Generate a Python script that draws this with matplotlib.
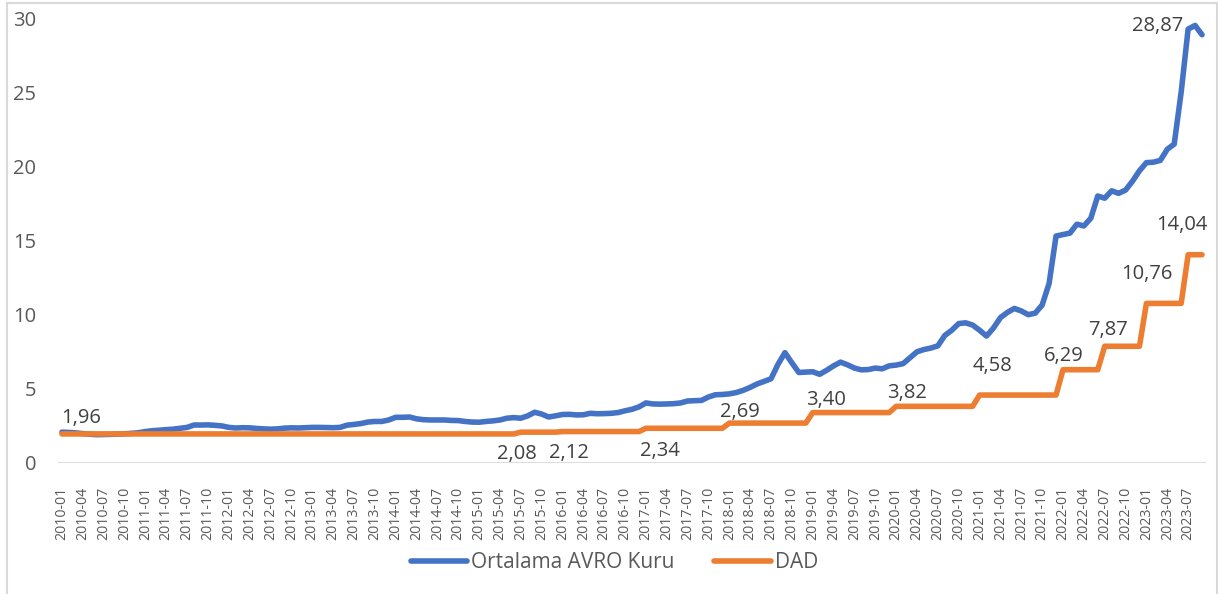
import matplotlib.pyplot as plt
import pandas as pd
from matplotlib.lines import Line2D

plt.rcParams['font.family'] = ['Open Sans', 'DejaVu Sans']

# monthly categories 2010-01 .. 2023-09
months = pd.period_range('2010-01', '2023-09', freq='M').strftime('%Y-%m').tolist()

# Ortalama AVRO Kuru, one row per year
avro = (
    [2.08, 2.06, 2.03, 1.98, 1.94, 1.91, 1.92, 1.93, 1.95, 1.97, 2.00, 2.04] +   # 2010
    [2.12, 2.18, 2.21, 2.25, 2.28, 2.34, 2.40, 2.56, 2.56, 2.57, 2.54, 2.50] +   # 2011
    [2.40, 2.36, 2.38, 2.37, 2.33, 2.30, 2.28, 2.30, 2.35, 2.37, 2.36, 2.38] +   # 2012
    [2.40, 2.40, 2.39, 2.38, 2.40, 2.55, 2.60, 2.66, 2.76, 2.80, 2.80, 2.90] +   # 2013
    [3.08, 3.08, 3.10, 2.98, 2.92, 2.90, 2.90, 2.90, 2.87, 2.86, 2.80, 2.76] +   # 2014
    [2.75, 2.80, 2.84, 2.90, 3.02, 3.06, 3.02, 3.18, 3.42, 3.30, 3.10, 3.18] +   # 2015
    [3.27, 3.28, 3.24, 3.25, 3.35, 3.32, 3.33, 3.35, 3.40, 3.52, 3.62, 3.78] +   # 2016
    [4.05, 3.98, 3.97, 3.98, 4.00, 4.05, 4.18, 4.20, 4.22, 4.45, 4.60, 4.62] +   # 2017
    [4.66, 4.75, 4.90, 5.10, 5.33, 5.50, 5.68, 6.65, 7.44, 6.75, 6.10, 6.13] +   # 2018
    [6.15, 5.98, 6.25, 6.55, 6.80, 6.62, 6.40, 6.28, 6.30, 6.40, 6.35, 6.55] +   # 2019
    [6.60, 6.70, 7.10, 7.50, 7.65, 7.75, 7.90, 8.60, 8.95, 9.40, 9.45, 9.30] +   # 2020
    [8.95, 8.56, 9.10, 9.80, 10.15, 10.42, 10.25, 10.00, 10.10, 10.65, 12.10, 15.30] +  # 2021
    [15.40, 15.50, 16.10, 15.98, 16.50, 18.00, 17.85, 18.35, 18.18, 18.40, 19.00, 19.70] +  # 2022
    [20.25, 20.28, 20.40, 21.15, 21.50, 25.00, 29.25, 29.50, 28.87]              # 2023
)

# DAD, one row per year
dad = (
    [1.96] * 12 +                                          # 2010
    [1.96] * 12 +                                          # 2011
    [1.96] * 12 +                                          # 2012
    [1.96] * 12 +                                          # 2013
    [1.96] * 12 +                                          # 2014
    [1.96] * 6 + [2.08] * 6 +                              # 2015
    [2.12] * 12 +                                          # 2016
    [2.34] * 12 +                                          # 2017
    [2.69] * 12 +                                          # 2018
    [3.40] * 12 +                                          # 2019
    [3.82] * 12 +                                          # 2020
    [4.58] * 12 +                                          # 2021
    [6.29] * 6 + [7.87] * 6 +                              # 2022
    [10.76] * 6 + [14.04] * 3                              # 2023
)

# which DAD months get a value label, and where the text sits (pixels)
dad_label_months = ['2010-01', '2015-07', '2016-01', '2017-01', '2018-01', '2019-01',
                    '2020-01', '2021-01', '2022-01', '2022-07', '2023-01', '2023-07']
dad_label_offsets = [(19, 16), (-4, -22), (6, -21), (14, -23), (11, 11), (13, 13),
                     (11, 13), (13, 29), (1, 14), (3, 16), (0, 29), (-6, 30)]

blue = '#4472C4'
orange = '#ED7D31'
grey_text = '#595959'
label_text = '#404040'

fig = plt.figure(figsize=(12.18, 5.94), dpi=100)
ax = fig.add_axes([58.5 / 1218, 1 - 463 / 594, 1147 / 1218, 445 / 594])

x = list(range(len(months)))
ax.plot(x, avro, color=blue, lw=4, solid_joinstyle='round', solid_capstyle='round',
        label='Ortalama AVRO Kuru', zorder=3)
ax.plot(x, dad, color=orange, lw=4, solid_joinstyle='round', solid_capstyle='round',
        label='DAD', zorder=4)
ax.axhline(0, color='#D9D9D9', lw=1.3, zorder=1)

def fmt(v):
    return f'{v:.2f}'.replace('.', ',')

for m, (dx, dy) in zip(dad_label_months, dad_label_offsets):
    i = months.index(m)
    ax.annotate(fmt(dad[i]), (i, dad[i]), xytext=(dx, dy), textcoords='offset pixels',
                ha='center', va='center', fontsize=14.5, color=label_text)

last = len(avro) - 1
ax.annotate(fmt(avro[last]), (last, avro[last]), xytext=(-44, 9), textcoords='offset pixels',
            ha='center', va='center', fontsize=14.5, color=label_text)

ax.set_xlim(-0.5, len(months) - 0.5)
ax.set_ylim(0, 30)
ax.set_yticks(range(0, 31, 5))
ax.set_xticks(x[::3])
ax.set_xticklabels(months[::3], rotation=90, fontsize=10.2, color=grey_text)
ax.tick_params(axis='y', length=0, pad=16, labelsize=14.5, labelcolor=grey_text)
ax.tick_params(axis='x', length=0, pad=17)
for s in ax.spines.values():
    s.set_visible(False)

ax.legend(loc='center', bbox_to_anchor=(614.5 / 1218, 1 - 563 / 594),
          bbox_transform=fig.transFigure, ncol=2, frameon=False, fontsize=15,
          labelcolor=grey_text, handlelength=2.7, handletextpad=0.2, columnspacing=1.9)

# outer chart frame (open at the bottom)
for xs, ys in [([7, 7], [594, 3]), ([7, 1216.5], [3, 3]), ([1216.5, 1216.5], [3, 594])]:
    fig.add_artist(Line2D([v / 1218 for v in xs], [1 - v / 594 for v in ys],
                          color='#D9D9D9', lw=1.5, transform=fig.transFigure))

fig.savefig('out.png', dpi=100, facecolor='white')
